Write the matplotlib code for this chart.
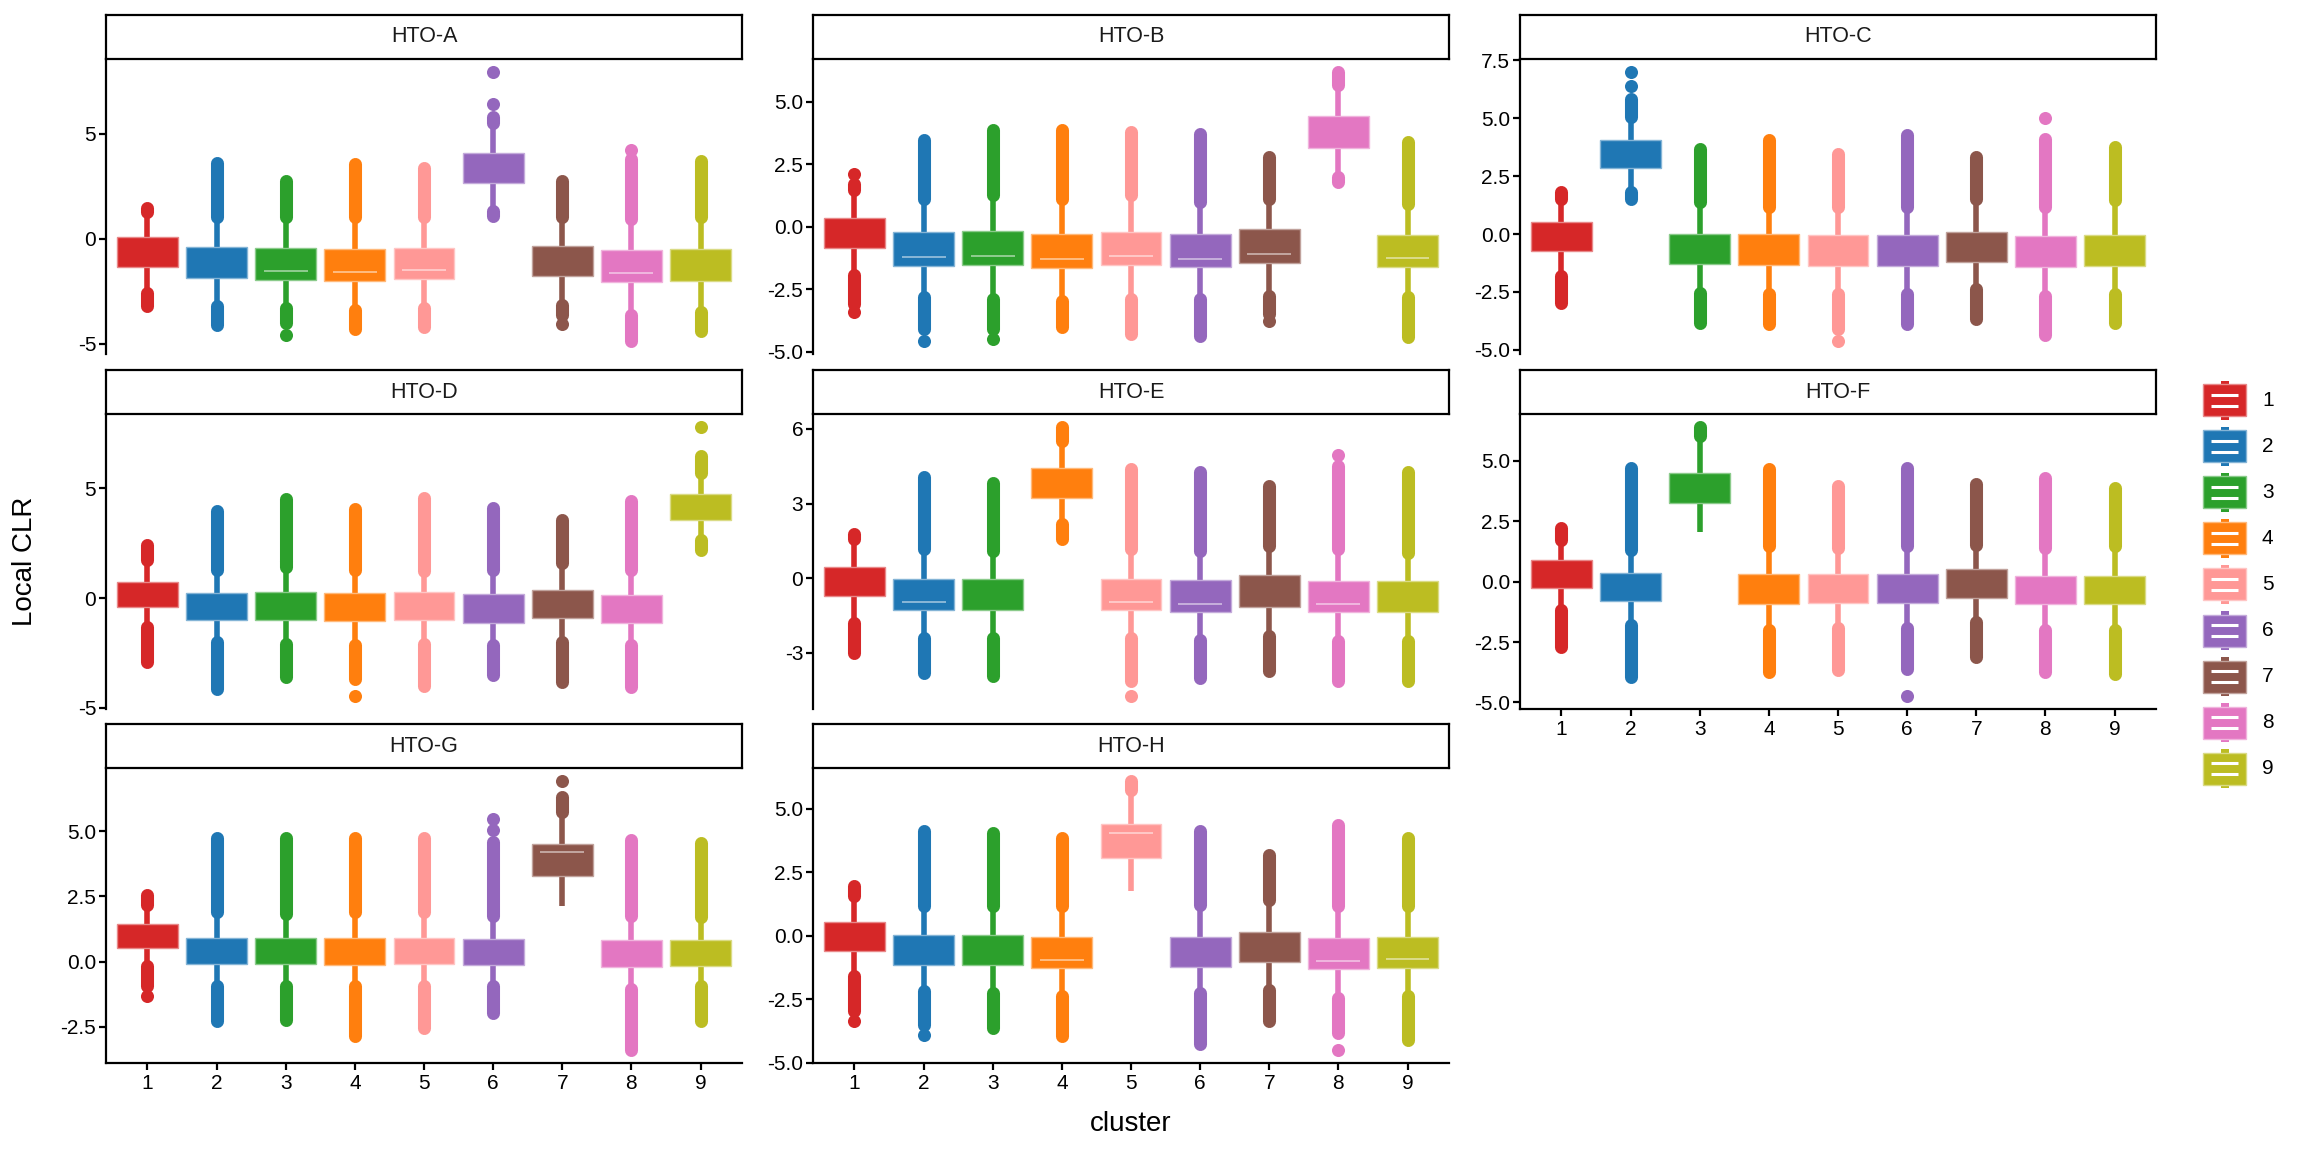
import matplotlib
matplotlib.use("Agg")
import matplotlib.pyplot as plt
from matplotlib.patches import Rectangle
import matplotlib.colors as mcolors

plt.rcParams['font.family'] = ['Liberation Sans', 'DejaVu Sans']

# ---------------- data ----------------
PANELS = ["HTO-A", "HTO-B", "HTO-C", "HTO-D", "HTO-E", "HTO-F", "HTO-G", "HTO-H"]
CLUSTERS = ["1", "2", "3", "4", "5", "6", "7", "8", "9"]
COLORS = ["#d62728", "#1f77b4", "#2ca02c", "#ff7f0e", "#ff9896",
          "#9467bd", "#8c564b", "#e377c2", "#bcbd22"]

# upper hinge (75th percentile) per panel, per cluster
Q3 = [
    [0.06, -0.40, -0.45, -0.50, -0.45, 4.10, -0.35, -0.53, -0.50],   # A
    [0.35, -0.21, -0.17, -0.28, -0.21, -0.28, -0.11, 4.43, -0.32],   # B
    [0.51, 4.05, -0.01, -0.01, -0.04, -0.04, 0.09, -0.07, -0.04],    # C
    [0.72, 0.21, 0.26, 0.21, 0.26, 0.17, 0.37, 0.14, 4.74],          # D
    [0.46, -0.05, -0.05, 4.41, -0.05, -0.09, 0.12, -0.11, -0.11],    # E
    [0.88, 0.35, 4.51, 0.31, 0.31, 0.31, 0.51, 0.24, 0.24],          # F
    [1.42, 0.91, 0.90, 0.89, 0.91, 0.85, 4.52, 0.84, 0.84],          # G
    [0.53, 0.01, 0.04, -0.05, 4.40, -0.05, 0.14, -0.11, -0.05],      # H
]
# lower hinge (25th percentile)
Q1 = [
    [-1.33, -1.89, -1.97, -2.02, -1.90, 2.67, -1.76, -2.05, -2.02],
    [-0.86, -1.58, -1.55, -1.66, -1.55, -1.62, -1.45, 3.16, -1.62],
    [-0.74, 2.86, -1.30, -1.34, -1.37, -1.37, -1.21, -1.42, -1.37],
    [-0.40, -0.98, -1.01, -1.06, -1.01, -1.13, -0.93, -1.13, 3.58],
    [-0.73, -1.26, -1.29, 3.24, -1.29, -1.36, -1.16, -1.37, -1.37],
    [-0.25, -0.79, 3.24, -0.93, -0.90, -0.90, -0.67, -0.94, -0.94],
    [0.50, -0.08, -0.08, -0.13, -0.10, -0.14, 3.27, -0.21, -0.17],
    [-0.62, -1.14, -1.17, -1.27, 3.05, -1.24, -1.05, -1.31, -1.27],
]
# upper whisker end
WHI = [
    [1.25, 1.05, 1.05, 1.05, 1.05, 5.50, 1.05, 0.95, 1.05],
    [1.46, 1.12, 1.26, 1.12, 1.26, 0.99, 1.12, 5.68, 0.92],
    [1.52, 5.06, 1.37, 1.16, 1.16, 1.16, 1.52, 1.16, 1.45],
    [1.74, 1.28, 1.40, 1.28, 1.21, 1.28, 1.59, 1.28, 5.72],
    [1.56, 1.16, 1.09, 5.52, 1.16, 1.09, 1.29, 1.16, 1.02],
    [1.74, 1.32, 6.04, 1.46, 1.39, 1.46, 1.53, 1.39, 1.46],
    [2.15, 1.89, 1.83, 1.89, 1.89, 1.76, 5.75, 1.76, 1.70],
    [1.55, 1.16, 1.16, 1.16, 5.76, 1.22, 1.42, 1.16, 1.16],
]
# highest outlier of the dense upper outlier run
OHI = [
    [1.45, 3.60, 2.75, 3.55, 3.39, 5.80, 2.75, 3.80, 3.71],
    [1.70, 3.47, 3.87, 3.87, 3.80, 3.73, 2.80, 6.18, 3.40],
    [1.81, 5.85, 3.68, 4.05, 3.47, 4.26, 3.32, 4.12, 3.76],
    [2.43, 3.96, 4.50, 4.04, 4.57, 4.11, 3.58, 4.42, 6.48],
    [1.76, 4.05, 3.84, 6.06, 4.38, 4.25, 3.71, 4.52, 4.25],
    [2.22, 4.72, 6.39, 4.65, 3.96, 4.72, 4.03, 4.31, 3.89],
    [2.54, 4.75, 4.75, 4.75, 4.75, 4.59, 6.33, 4.66, 4.53],
    [1.94, 4.11, 4.05, 3.85, 6.08, 4.11, 3.19, 4.38, 3.85],
]
# lower whisker end
WLO = [
    [-2.60, -3.20, -3.30, -3.40, -3.30, 1.30, -3.15, -3.65, -3.50],
    [-1.95, -2.82, -2.89, -2.96, -2.89, -2.89, -2.76, 2.00, -2.82],
    [-1.81, 1.81, -2.53, -2.60, -2.60, -2.60, -2.38, -2.67, -2.60],
    [-1.31, -2.00, -2.08, -2.16, -2.08, -2.16, -2.00, -2.16, 2.66],
    [-1.80, -2.41, -2.41, 2.16, -2.41, -2.47, -2.34, -2.54, -2.54],
    [-1.18, -1.81, 2.04, -2.01, -1.94, -1.94, -1.67, -2.01, -2.01],
    [-0.17, -0.94, -0.94, -0.94, -0.94, -0.94, 2.12, -1.07, -0.94],
    [-1.60, -2.19, -2.26, -2.39, 1.75, -2.26, -2.13, -2.46, -2.39],
]
# lowest outlier of the dense lower outlier run (None = no low outliers)
OLO = [
    [-3.20, -4.10, -4.00, -4.30, -4.18, 1.10, -3.65, -4.85, -4.37],
    [-3.10, -4.10, -4.10, -4.03, -4.30, -4.36, -3.49, 1.80, -4.43],
    [-2.96, 1.52, -3.83, -3.90, -4.12, -3.90, -3.68, -4.34, -3.83],
    [-2.92, -4.14, -3.61, -3.69, -3.99, -3.53, -3.84, -4.07, 2.20],
    [-3.01, -3.82, -3.92, 1.56, -4.15, -4.02, -3.75, -4.15, -4.15],
    [-2.71, -3.96, None, -3.75, -3.68, -3.61, -3.13, -3.75, -3.82],
    [-0.94, -2.29, -2.23, -2.87, -2.55, -1.97, None, -3.38, -2.29],
    [-2.98, -3.51, -3.64, -3.97, None, -4.27, -3.38, -3.84, -4.10],
]
# isolated outlier points, {cluster index: [values]}
EXTRA = [
    {2: [-4.58], 5: [6.43, 7.92], 6: [-4.05], 7: [4.22]},
    {0: [2.10, -3.43], 1: [-4.56], 2: [-4.50], 6: [-3.76]},
    {1: [6.40, 6.98], 4: [-4.60], 7: [4.99]},
    {2: [1.67], 3: [-4.45], 8: [7.78]},
    {4: [-4.72], 7: [4.95]},
    {5: [-4.72]},
    {0: [-1.33], 5: [5.04, 5.45], 6: [6.91]},
    {0: [-3.35], 1: [-3.90], 7: [-4.49]},
]
# visible median lines (None = not visible)
MED = [
    [None, None, -1.54, -1.60, -1.49, None, None, -1.65, None],
    [None, -1.22, -1.18, -1.29, -1.19, -1.29, -1.08, None, -1.26],
    [None] * 9,
    [None] * 9,
    [None, -0.95, None, None, -0.95, -1.03, None, -1.03, None],
    [None] * 9,
    [None, None, None, None, None, None, 4.21, None, None],
    [None, None, None, -0.95, 4.05, None, None, -0.99, -0.91],
]
YTICKS = [
    [-5, 0, 5],
    [-5.0, -2.5, 0.0, 2.5, 5.0],
    [-5.0, -2.5, 0.0, 2.5, 5.0, 7.5],
    [-5, 0, 5],
    [-3, 0, 3, 6],
    [-5.0, -2.5, 0.0, 2.5, 5.0],
    [-2.5, 0.0, 2.5, 5.0],
    [-5.0, -2.5, 0.0, 2.5, 5.0],
]
YTICKLABELS = [
    ["-5", "0", "5"],
    ["-5.0", "-2.5", "0.0", "2.5", "5.0"],
    ["-5.0", "-2.5", "0.0", "2.5", "5.0", "7.5"],
    ["-5", "0", "5"],
    ["-3", "0", "3", "6"],
    ["-5.0", "-2.5", "0.0", "2.5", "5.0"],
    ["-2.5", "0.0", "2.5", "5.0"],
    ["-5.0", "-2.5", "0.0", "2.5", "5.0"],
]
Y_LABEL = "Local CLR"
X_LABEL = "cluster"

# ---------------- layout ----------------
W, H = 2304, 1152
DPI = 100
fig = plt.figure(figsize=(W / DPI, H / DPI), dpi=DPI)
fig.patch.set_facecolor("white")


def rect(x0, ytop, w, h):
    return [x0 / W, 1 - (ytop + h) / H, w / W, h / H]


COL_X = [106, 813, 1520]
PANEL_W = 636
STRIP_TOP = [15, 370, 724]
STRIP_H = 44
AX_H = 295
BOTTOM_PANELS = {5, 6, 7}

TICK_FS = 15
STRIP_FS = 15.5
TITLE_FS = 20
SPINE_LW = 1.6

BOX_W = 0.88
WHISK_LW = 4.0
OUT_LW = 9.4


def lighten(c, amt=0.45):
    r, g, b = mcolors.to_rgb(c)
    return (r + (1 - r) * amt, g + (1 - g) * amt, b + (1 - b) * amt)


for k, name in enumerate(PANELS):
    r, c = divmod(k, 3)
    x0 = COL_X[c]
    # strip
    sax = fig.add_axes(rect(x0, STRIP_TOP[r], PANEL_W, STRIP_H))
    sax.set_xticks([]); sax.set_yticks([])
    sax.set_facecolor("white")
    for sp in sax.spines.values():
        sp.set_linewidth(SPINE_LW)
        sp.set_color("black")
    sax.text(0.5, 0.5, name, ha="center", va="center", fontsize=STRIP_FS,
             color="#1a1a1a", transform=sax.transAxes)

    ax = fig.add_axes(rect(x0, STRIP_TOP[r] + STRIP_H, PANEL_W, AX_H))
    ax.set_facecolor("none")
    vals = []
    for j in range(len(CLUSTERS)):
        x = j + 1
        col = COLORS[j]
        q1, q3 = Q1[k][j], Q3[k][j]
        whi, wlo = WHI[k][j], WLO[k][j]
        ohi, olo = OHI[k][j], OLO[k][j]
        vals += [q1, q3, whi, wlo]
        # whiskers
        ax.plot([x, x], [q3, whi], color=col, lw=WHISK_LW,
                solid_capstyle="butt", zorder=2)
        ax.plot([x, x], [q1, wlo], color=col, lw=WHISK_LW,
                solid_capstyle="butt", zorder=2)
        # dense outlier runs
        if ohi is not None:
            ax.plot([x, x], [whi, ohi], color=col, lw=OUT_LW,
                    solid_capstyle="round", zorder=2)
            vals.append(ohi)
        if olo is not None:
            ax.plot([x, x], [wlo, olo], color=col, lw=OUT_LW,
                    solid_capstyle="round", zorder=2)
            vals.append(olo)
        # isolated outliers
        ex = EXTRA[k].get(j, [])
        if ex:
            ax.scatter([x] * len(ex), ex, s=OUT_LW ** 2, color=col,
                       linewidths=0, zorder=2)
            vals += ex
        # box
        ax.add_patch(Rectangle((x - BOX_W / 2, q1), BOX_W, q3 - q1,
                               facecolor=col, edgecolor=lighten(col),
                               lw=1.0, zorder=3))
        m = MED[k][j]
        if m is not None:
            ax.plot([x - BOX_W * 0.36, x + BOX_W * 0.36], [m, m],
                    color="white", lw=1.1, alpha=0.6, zorder=4,
                    solid_capstyle="butt")
    lo, hi = min(vals), max(vals)
    pad = 0.05 * (hi - lo)
    ax.set_ylim(lo - pad, hi + pad)
    ax.set_xlim(0.4, len(CLUSTERS) + 0.6)

    ax.set_yticks(YTICKS[k])
    ax.set_yticklabels(YTICKLABELS[k])
    ax.tick_params(axis="y", direction="out", length=5, width=SPINE_LW,
                   labelsize=TICK_FS, pad=2, colors="black")
    for side in ("top", "right"):
        ax.spines[side].set_visible(False)
    ax.spines["left"].set_linewidth(SPINE_LW)
    if k in BOTTOM_PANELS:
        ax.spines["bottom"].set_linewidth(SPINE_LW)
        ax.set_xticks(range(1, len(CLUSTERS) + 1))
        ax.set_xticklabels(CLUSTERS)
        ax.tick_params(axis="x", direction="out", length=5, width=SPINE_LW,
                       labelsize=TICK_FS, pad=3, colors="black")
    else:
        ax.spines["bottom"].set_visible(False)
        ax.set_xticks([])

# axis titles
fig.text(25 / W, 1 - 561 / H, Y_LABEL, rotation=90, ha="center", va="center",
         fontsize=TITLE_FS)
fig.text(1131 / W, 1 - 1124 / H, X_LABEL, ha="center", va="center",
         fontsize=TITLE_FS)

# legend
lax = fig.add_axes([0, 0, 1, 1])
lax.set_xlim(0, W)
lax.set_ylim(H, 0)
lax.axis("off")
lax.set_zorder(-1)
KEY_X0, KEY_W, KEY_H = 2203, 43, 32
LEG_Y0, LEG_DY = 400, 46.1
for i, (lab, col) in enumerate(zip(CLUSTERS, COLORS)):
    cy = LEG_Y0 + i * LEG_DY
    cx = KEY_X0 + KEY_W / 2
    lax.add_patch(Rectangle((cx - 4, cy - KEY_H / 2 - 3.5), 8, KEY_H + 7,
                            facecolor=col, edgecolor="none"))
    lax.add_patch(Rectangle((KEY_X0, cy - KEY_H / 2), KEY_W, KEY_H,
                            facecolor=col, edgecolor=lighten(col), lw=1.0))
    for dy in (-5.5, 5.5):
        lax.plot([KEY_X0 + 8, KEY_X0 + KEY_W - 8], [cy + dy, cy + dy],
                 color="white", lw=2.2, solid_capstyle="butt")
    lax.text(2262, cy, lab, ha="left", va="center", fontsize=TICK_FS)

fig.savefig("out.png", dpi=DPI, facecolor="white")
